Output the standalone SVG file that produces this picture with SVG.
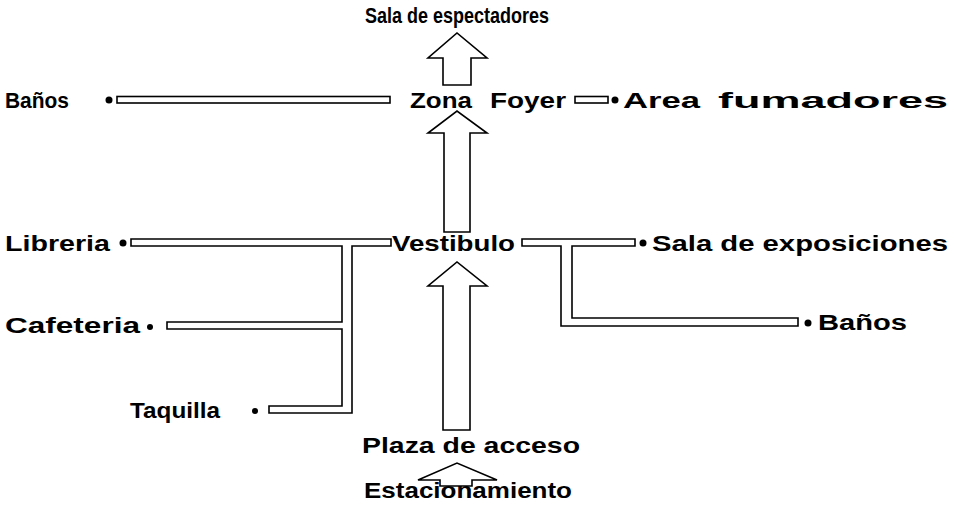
<svg xmlns="http://www.w3.org/2000/svg" width="954" height="518" viewBox="0 0 954 518">
<style>
text{font-family:"Liberation Sans",Arial,sans-serif;font-weight:bold;font-size:22px;fill:#000}
.c{fill:#fff;stroke:#000;stroke-width:1.6;stroke-linejoin:miter}
.d{fill:#000}
</style>
<rect width="954" height="518" fill="#fff"/>
<g id="connectors">
<polygon class="c" points="443,85 443,58 428,58 457,33 487,58 471,58 471,85"/>
<polygon class="c" points="444,232 444,133 428,133 457,111 487,133 470,133 470,232"/>
<polygon class="c" points="443,430 443,286 428,286 457,262 487,286 470,286 470,430"/>
<polygon class="c" points="440,486 440,480 418,480 457,463 497,480 472,480 472,486"/>
<rect class="c" x="117" y="96.5" width="273" height="6.5"/>
<rect class="c" x="575" y="96.5" width="33" height="6.5"/>
<polygon class="c" points="131,239 391,239 391,246 352,246 352,413 269,413 269,406 342,406 342,329 167,329 167,322 342,322 342,246 131,246"/>
<polygon class="c" points="522,239 635,239 635,246 572,246 572,318 798,318 798,326 561,326 561,246 522,246"/>
</g>
<g id="dots">
<circle class="d" cx="109" cy="100" r="3.5"/>
<circle class="d" cx="615" cy="100" r="3.5"/>
<circle class="d" cx="123" cy="243" r="3.5"/>
<circle class="d" cx="643" cy="243" r="3.5"/>
<circle class="d" cx="150" cy="327" r="3"/>
<circle class="d" cx="808" cy="323" r="3.5"/>
<circle class="d" cx="255" cy="411" r="3"/>
</g>
<g id="n-sala-espectadores"><text x="365" y="23" textLength="184" lengthAdjust="spacingAndGlyphs">Sala de espectadores</text></g>
<g id="n-banos1"><text x="5" y="108" textLength="64" lengthAdjust="spacingAndGlyphs">Baños</text></g>
<g id="n-zona-foyer"><text x="410" y="108" textLength="62" lengthAdjust="spacingAndGlyphs">Zona</text><text x="490" y="108" textLength="76" lengthAdjust="spacingAndGlyphs">Foyer</text></g>
<g id="n-area-fumadores"><text x="623" y="108" textLength="77" lengthAdjust="spacingAndGlyphs">Area</text><text x="718" y="108" textLength="230" lengthAdjust="spacingAndGlyphs">fumadores</text></g>
<g id="n-libreria"><text x="5" y="251" textLength="105" lengthAdjust="spacingAndGlyphs">Libreria</text></g>
<g id="n-vestibulo"><text x="392" y="251" textLength="123" lengthAdjust="spacingAndGlyphs">Vestibulo</text></g>
<g id="n-sala-exposiciones"><text x="652" y="251" textLength="296" lengthAdjust="spacingAndGlyphs">Sala de exposiciones</text></g>
<g id="n-cafeteria"><text x="5" y="333" textLength="135" lengthAdjust="spacingAndGlyphs">Cafeteria</text></g>
<g id="n-banos2"><text x="818" y="330" textLength="89" lengthAdjust="spacingAndGlyphs">Baños</text></g>
<g id="n-taquilla"><text x="130" y="418" textLength="90" lengthAdjust="spacingAndGlyphs">Taquilla</text></g>
<g id="n-plaza"><text x="362" y="453" textLength="218" lengthAdjust="spacingAndGlyphs">Plaza de acceso</text></g>
<g id="n-estacionamiento"><text x="364" y="498" textLength="208" lengthAdjust="spacingAndGlyphs">Estacionamiento</text></g>
</svg>
